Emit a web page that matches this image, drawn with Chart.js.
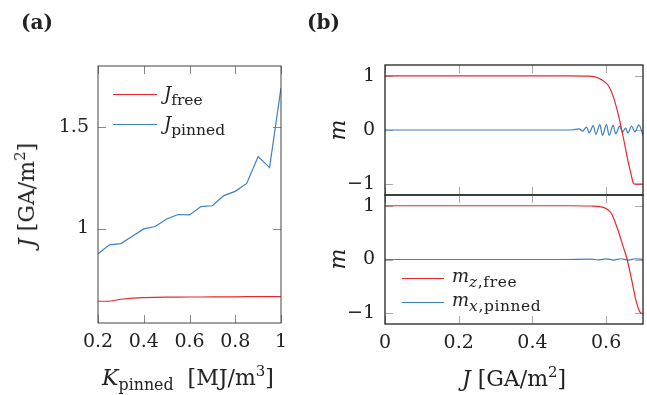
<!DOCTYPE html>
<html lang="en">
<head>
<meta charset="utf-8">
<title>J vs K_pinned and m vs J</title>
<script src="https://cdn.jsdelivr.net/npm/chart.js@4.4.1/dist/chart.umd.min.js"></script>
<style>
  html, body { margin: 0; padding: 0; background: #fff; }
  #wrap { position: relative; width: 647px; height: 395px; overflow: hidden;
          font-family: "DejaVu Serif", serif; color: #222; }
  canvas { position: absolute; }
  .lbl { position: absolute; white-space: nowrap; font-size: 22px; line-height: 1; }
  .ctr { transform: translate(-50%, -50%); }
  .rot { transform: translate(-50%, -50%) rotate(-90deg); }
  .panel { position: absolute; font-weight: bold; font-size: 20px; }
  .lbl sub { font-size: 72%; vertical-align: -0.3em; line-height: 0; }
  sup { font-size: 68%; vertical-align: 0.6em; line-height: 0; }
  /* legend rows: top of .key is the sample line */
  .key { position: absolute; height: 0; }
  .key .sw { position: absolute; left: 0; top: 0; height: 1px; }
  .key .tx { position: absolute; white-space: nowrap; font-size: 18px; line-height: 1; }
  .key sub { font-size: 86%; vertical-align: -0.35em; line-height: 0; }
  .key.wide sub { letter-spacing: 0.6px; }
</style>
</head>
<body>
<div id="wrap">
  <canvas id="chart-a" width="300" height="395" style="left:0;top:0"></canvas>
  <canvas id="chart-b1" width="347" height="220" style="left:300px;top:0"></canvas>
  <canvas id="chart-b2" width="347" height="245" style="left:300px;top:150px"></canvas>

  <div class="panel" style="left:21px;top:10px">(a)</div>
  <div class="panel" style="left:307px;top:10px">(b)</div>

  <div class="lbl rot" style="left:27px;top:195px"><i>J</i> [GA/m<sup>2</sup>]</div>
  <div class="lbl ctr" style="left:188px;top:378px"><i>K</i><sub>pinned</sub>&nbsp;&nbsp;[MJ/m<sup>3</sup>]</div>
  <div class="lbl rot" style="left:338px;top:130px"><i>m</i></div>
  <div class="lbl rot" style="left:338px;top:259px"><i>m</i></div>
  <div class="lbl ctr" style="left:514px;top:379px"><i>J</i> [GA/m<sup>2</sup>]</div>

  <div class="key" style="left:113px;top:94px">
    <span class="sw" style="width:44px;background:#e8262d"></span>
    <span class="tx" style="left:51px;top:-9px"><i>J</i><sub>free</sub></span>
  </div>
  <div class="key" style="left:113px;top:124px">
    <span class="sw" style="width:44px;background:#3a80c3"></span>
    <span class="tx" style="left:51px;top:-9px"><i>J</i><sub>pinned</sub></span>
  </div>
  <div class="key wide" style="left:402px;top:278px">
    <span class="sw" style="width:42px;background:#e8262d"></span>
    <span class="tx" style="left:50px;top:-11px"><i>m</i><sub><i>z</i>,free</sub></span>
  </div>
  <div class="key wide" style="left:402px;top:302px">
    <span class="sw" style="width:42px;background:#3a80c3"></span>
    <span class="tx" style="left:50px;top:-11px"><i>m</i><sub><i>x</i>,pinned</sub></span>
  </div>
</div>

<script>
  // (a) critical current vs pinned-layer anisotropy
  const kPinned = [0.2, 0.25, 0.3, 0.35, 0.4, 0.45, 0.5, 0.55, 0.6, 0.65, 0.7, 0.75, 0.8, 0.85, 0.9, 0.95, 1];
  const jFree   = [0.642, 0.642, 0.652, 0.657, 0.660, 0.661, 0.662, 0.662, 0.663, 0.663, 0.664, 0.664, 0.664, 0.665, 0.665, 0.665, 0.665];
  const jPinned = [0.876, 0.920, 0.926, 0.962, 0.998, 1.010, 1.047, 1.069, 1.067, 1.108, 1.112, 1.162, 1.183, 1.222, 1.354, 1.300, 1.693];
  const kTicks = [0.2, 0.4, 0.6, 0.8, 1];
  const jTicksA = [1, 1.5];

  // (b) top: magnetisation vs current
  const topFreeJ = [0, 0.5, 0.55, 0.57, 0.587, 0.605, 0.619, 0.632, 0.646, 0.659, 0.669, 0.673, 0.678, 0.7];
  const topFreeM = [1, 1, 0.995, 0.98, 0.93, 0.83, 0.62, 0.31, -0.12, -0.56, -0.86, -0.97, -1, -1];
  const topPinnedJ = [0, 0.49, 0.51, 0.527, 0.536, 0.547, 0.554, 0.565, 0.572, 0.583, 0.590, 0.601, 0.608, 0.619, 0.626, 0.637, 0.644, 0.653, 0.659, 0.669, 0.678, 0.689, 0.7];
  const topPinnedM = [0, 0, 0.005, 0.022, -0.022, 0.055, -0.055, 0.08, -0.08, 0.1, -0.1, 0.1, -0.1, 0.085, -0.07, 0.07, -0.035, 0.035, -0.055, 0.07, -0.035, 0.095, -0.1];

  // (b) bottom
  const botFreeJ = [0, 0.5, 0.56, 0.575, 0.592, 0.604, 0.614, 0.632, 0.646, 0.657, 0.669, 0.682, 0.691, 0.696, 0.7];
  const botFreeM = [1, 1, 0.995, 0.99, 0.97, 0.93, 0.86, 0.55, 0.245, 0, -0.37, -0.79, -0.97, -1, -1];
  const botPinnedJ = [0, 0.48, 0.56, 0.58, 0.6, 0.62, 0.64, 0.66, 0.68, 0.7];
  const botPinnedM = [0, 0, 0.006, -0.006, 0.012, -0.01, 0.014, -0.01, 0.014, 0];

  const jTicksB = [0, 0.2, 0.4, 0.6];
  const mTicks = [-1, 0, 1];

  const RED = '#e8262d';
  const BLUE = '#3a80c3';
  const tickFont = { family: 'DejaVu Serif', size: 19 };

  const pts = (xs, ys) => xs.map((x, i) => ({ x: x, y: ys[i] }));
  const fmt = v => String(v).replace('-', '\u2212');

  // pgfplots-like box with inward tick marks on all four sides
  const frame = {
    id: 'frame',
    beforeDatasetsDraw(chart, args, opts) {
      const { ctx, chartArea: a, scales } = chart;
      const L = 8;
      ctx.save();
      ctx.strokeStyle = opts.tickColor;
      ctx.lineWidth = 1;
      ctx.beginPath();
      scales.x.ticks.forEach(t => {
        const px = Math.round(scales.x.getPixelForValue(t.value)) + 0.5;
        ctx.moveTo(px, a.top); ctx.lineTo(px, a.top + L);
        ctx.moveTo(px, a.bottom); ctx.lineTo(px, a.bottom - L);
      });
      scales.y.ticks.forEach(t => {
        const py = Math.round(scales.y.getPixelForValue(t.value)) + 0.5;
        ctx.moveTo(a.left, py); ctx.lineTo(a.left + L, py);
        ctx.moveTo(a.right, py); ctx.lineTo(a.right - L, py);
      });
      ctx.stroke();
      ctx.restore();
    },
    afterDatasetsDraw(chart, args, opts) {
      const { ctx, chartArea: a } = chart;
      ctx.save();
      ctx.strokeStyle = opts.color;
      ctx.lineWidth = opts.width;
      ctx.strokeRect(a.left, a.top, a.right - a.left, a.bottom - a.top);
      ctx.restore();
    }
  };

  function axis(min, max, ticks, size, showLabels, pad) {
    return {
      type: 'linear', min: min, max: max,
      afterBuildTicks: s => { s.ticks = ticks.map(v => ({ value: v })); },
      afterFit: s => { if (s.isHorizontal()) s.height = size; else s.width = size; },
      grid: { display: false, drawTicks: false },
      border: { display: false },
      ticks: { display: showLabels, font: tickFont, color: '#222', padding: pad,
               maxRotation: 0, autoSkip: false, callback: v => fmt(v) }
    };
  }

  function line(data, color, smooth) {
    return { data: data, borderColor: color, borderWidth: 1.2, pointRadius: 0,
             fill: false, cubicInterpolationMode: smooth ? 'monotone' : 'default', tension: 0 };
  }

  function opts(padding, xScale, yScale, frameOpts) {
    return {
      responsive: false, animation: false, devicePixelRatio: 1,
      layout: { padding: padding },
      plugins: { legend: { display: false }, tooltip: { enabled: false }, frame: frameOpts },
      scales: { x: xScale, y: yScale }
    };
  }

  new Chart('chart-a', {
    type: 'line',
    data: { datasets: [line(pts(kPinned, jFree), RED, false), line(pts(kPinned, jPinned), BLUE, false)] },
    options: opts({ left: 0, top: 66, right: 19, bottom: 0 },
      axis(0.2, 1, kTicks, 72, true, 8),
      axis(0.535, 1.8, jTicksA, 98, true, 9),
      { tickColor: '#888', color: '#444', width: 1 }),
    plugins: [frame]
  });

  // x axis height 25 keeps the plot bottom at 195 (220 - 25)
  new Chart('chart-b1', {
    type: 'line',
    data: { datasets: [line(pts(topFreeJ, topFreeM), RED, true), line(pts(topPinnedJ, topPinnedM), BLUE, true)] },
    options: opts({ left: 0, top: 65, right: 4, bottom: 0 },
      axis(0, 0.7, jTicksB, 25, false, 0),
      axis(-1.2, 1.2, mTicks, 85, true, 10),
      { tickColor: '#aaa', color: '#222', width: 1.3 }),
    plugins: [frame]
  });

  new Chart('chart-b2', {
    type: 'line',
    data: { datasets: [line(pts(botFreeJ, botFreeM), RED, true), line(pts(botPinnedJ, botPinnedM), BLUE, true)] },
    options: opts({ left: 0, top: 45, right: 4, bottom: 0 },
      axis(0, 0.7, jTicksB, 71, true, 8),
      axis(-1.2, 1.2, mTicks, 85, true, 10),
      { tickColor: '#aaa', color: '#222', width: 1.3 }),
    plugins: [frame]
  });
</script>
</body>
</html>
